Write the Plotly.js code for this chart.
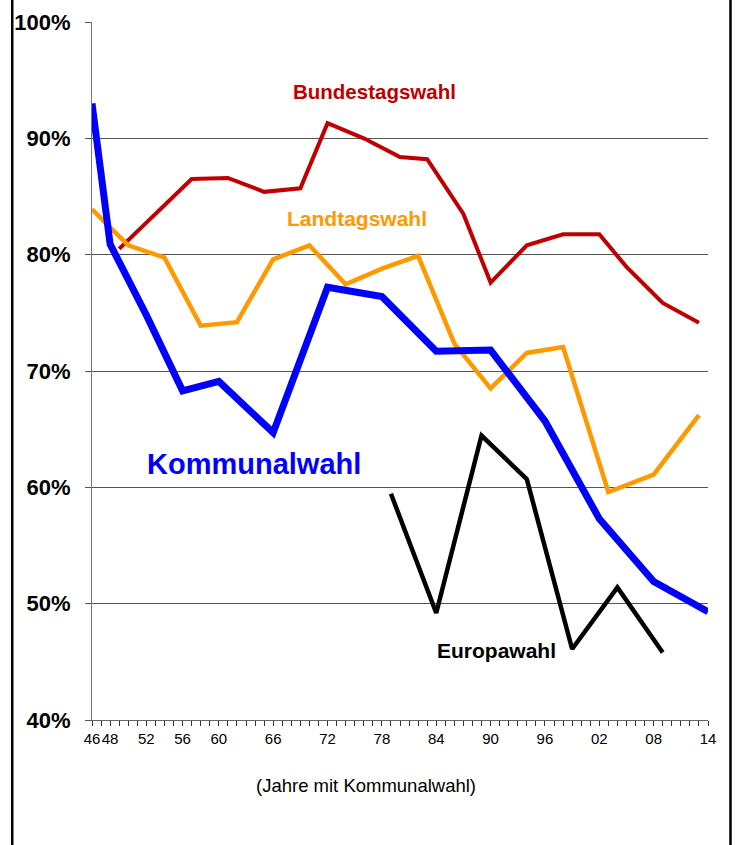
<!DOCTYPE html>
<html>
<head>
<meta charset="utf-8">
<script src="https://cdn.plot.ly/plotly-3.0.1.min.js"></script>
<style>
  body { margin: 0; padding: 0; background: #fff; }
  #chart { width: 738px; height: 845px; }
</style>
</head>
<body>
<div id="chart"></div>
<script>
// Wahlbeteiligung in Bayern (Prozent)
// Kommunalwahl
var kommunalYears = [1946, 1948, 1952, 1956, 1960, 1966, 1972, 1978, 1984, 1990, 1996, 2002, 2008, 2014];
var kommunalValues = [93.0, 80.9, 74.8, 68.3, 69.1, 64.7, 77.2, 76.4, 71.7, 71.8, 65.7, 57.3, 51.9, 49.3];

// Bundestagswahl
var bundYears = [1949, 1953, 1957, 1961, 1965, 1969, 1972, 1976, 1980, 1983, 1987, 1990, 1994, 1998, 2002, 2005, 2009, 2013];
var bundValues = [80.5, 83.5, 86.5, 86.6, 85.4, 85.7, 91.3, 90.0, 88.4, 88.2, 83.5, 77.6, 80.8, 81.75, 81.75, 78.95, 75.85, 74.15];

// Landtagswahl
var landYears = [1946, 1950, 1954, 1958, 1962, 1966, 1970, 1974, 1978, 1982, 1986, 1990, 1994, 1998, 2003, 2008, 2013];
var landValues = [83.9, 80.8, 79.75, 73.9, 74.2, 79.6, 80.8, 77.45, 78.8, 79.9, 72.35, 68.5, 71.55, 72.05, 59.6, 61.1, 66.2];

// Europawahl
var euroYears = [1979, 1984, 1989, 1994, 1999, 2004, 2009];
var euroValues = [59.45, 49.2, 64.45, 60.7, 46.1, 51.4, 45.8];

// x tick labels (only the Kommunalwahl years are labelled)
var tickYears = kommunalYears;
var tickLabels = ["46", "48", "52", "56", "60", "66", "72", "78", "84", "90", "96", "02", "08", "14"];

var yTicks = [40, 50, 60, 70, 80, 90, 100];
var yTickLabels = yTicks.map(v => v + "%");

var traceBund = {
    x: bundYears, y: bundValues, type: "scatter", mode: "lines",
    line: {color: "#C00000", width: 4}, name: "Bundestagswahl"
};
var traceLand = {
    x: landYears, y: landValues, type: "scatter", mode: "lines",
    line: {color: "#FF9900", width: 4.5}, name: "Landtagswahl"
};
var traceEuro = {
    x: euroYears, y: euroValues, type: "scatter", mode: "lines",
    line: {color: "#000000", width: 4.5}, name: "Europawahl"
};
var traceKomm = {
    x: kommunalYears, y: kommunalValues, type: "scatter", mode: "lines",
    line: {color: "#0000FF", width: 7}, name: "Kommunalwahl"
};

var data = [traceBund, traceLand, traceEuro, traceKomm];

var labelFont = "Liberation Sans, Arial, sans-serif";

var layout = {
    width: 738,
    height: 845,
    margin: {l: 92, r: 30, t: 22, b: 125},
    paper_bgcolor: "#ffffff",
    plot_bgcolor: "#ffffff",
    showlegend: false,
    font: {family: labelFont, color: "#000"},
    xaxis: {
        range: [1946, 2014],
        tickmode: "array",
        tickvals: tickYears,
        ticktext: tickLabels,
        tickangle: 0,
        ticks: "outside",
        ticklen: 5,
        tickcolor: "#333",
        tickfont: {size: 15, family: labelFont},
        showgrid: false,
        zeroline: false,
        showline: true,
        linecolor: "#666",
        linewidth: 1,
        minor: {dtick: 1, tick0: 1946, ticks: "outside", ticklen: 5, tickcolor: "#333", showgrid: false}
    },
    yaxis: {
        range: [40, 100],
        tickmode: "array",
        tickvals: yTicks,
        ticktext: yTickLabels,
        ticks: "outside",
        ticklen: 6,
        tickcolor: "#555",
        ticklabelstandoff: 10,
        tickfont: {size: 22, family: labelFont, weight: "bold"},
        showgrid: true,
        gridcolor: "#555",
        gridwidth: 1,
        zeroline: false,
        showline: true,
        linecolor: "#777",
        linewidth: 1
    },
    annotations: [
        {x: 1977.2, y: 94.0, xref: "x", yref: "y", text: "<b>Bundestagswahl</b>", showarrow: false,
         font: {size: 20.5, color: "#C00000", family: labelFont}},
        {x: 1975.25, y: 83.1, xref: "x", yref: "y", text: "<b>Landtagswahl</b>", showarrow: false,
         font: {size: 21, color: "#FF9900", family: labelFont}},
        {x: 1963.9, y: 62.0, xref: "x", yref: "y", text: "<b>Kommunalwahl</b>", showarrow: false,
         font: {size: 29, color: "#0000FF", family: labelFont}},
        {x: 1990.6, y: 46.0, xref: "x", yref: "y", text: "<b>Europawahl</b>", showarrow: false,
         font: {size: 21, color: "#000000", family: labelFont}},
        {x: 0.445, y: -0.112, xref: "paper", yref: "paper", text: "(Jahre mit Kommunalwahl)", showarrow: false,
         font: {size: 18.5, color: "#000", family: labelFont}}
    ],
    // outer frame (only the side edges are visible in the picture)
    shapes: [
        {type: "line", xref: "paper", yref: "paper", x0: -0.1295, x1: -0.1295, y0: -0.3, y1: 1.2,
         line: {color: "#000", width: 2.5}},
        {type: "line", xref: "paper", yref: "paper", x0: 1.0365, x1: 1.0365, y0: -0.3, y1: 1.2,
         line: {color: "#000", width: 2.5}}
    ]
};

Plotly.newPlot("chart", data, layout, {displayModeBar: false, staticPlot: true});
</script>
</body>
</html>
